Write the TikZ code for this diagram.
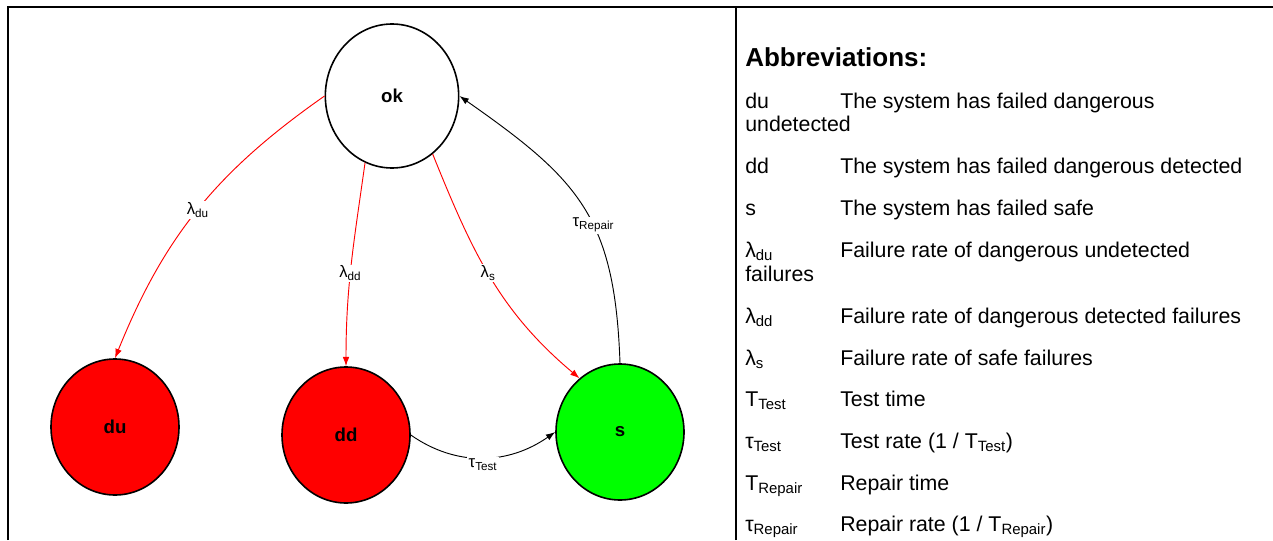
\documentclass[tikz,border=0pt]{standalone}
\usepackage{fontspec}
\setmainfont{Liberation Sans}
\usetikzlibrary{shapes.geometric,arrows.meta}
\newcommand{\lo}[1]{\textsubscript{#1}}
\definecolor{failred}{RGB}{255,0,0}
\definecolor{safegreen}{RGB}{0,255,0}

\begin{document}
\begin{tikzpicture}[x=0.75pt,y=0.75pt,
  state/.style={ellipse,draw,line width=1.2pt,minimum width=96pt,minimum height=102pt,inner sep=0pt,font=\bfseries\fontsize{14}{16}\selectfont},
  rate/.style={fill=white,text=black,inner sep=1pt,font=\fontsize{12.5}{14}\selectfont},
  fail/.style={draw=failred,line width=0.7pt,-{Latex[length=7pt,width=5pt]}},
  back/.style={draw=black,line width=0.7pt,-{Latex[length=7pt,width=5pt]}},
  abbr/.style={anchor=base west,inner sep=0pt,font=\fontsize{16}{19}\selectfont}]
\useasboundingbox (0,0) rectangle (1273,540);
\fill[white] (0,0) rectangle (1273,540);
\draw[line width=1.5pt] (8,0) -- (8,532.5) -- (1273,532.5);
\draw[line width=1.5pt] (735.5,0) -- (735.5,532.5);

% states
\node[state,fill=white,minimum width=100pt,minimum height=108pt] (ok) at (392,444) {ok};
\node[state,fill=failred] (du) at (115,113) {du};
\node[state,fill=failred] (dd) at (346,105) {dd};
\node[state,fill=safegreen] (s) at (620,108) {s};

% transitions
\draw[fail] (ok.west) to[out=-145,in=68] node[rate,pos=0.5] (ldu) {λ\lo{du}} (du.north);
\draw[fail] (ok.-112) to[out=-98,in=90] node[rate,pos=0.55] (ldd) {λ\lo{dd}} (dd.north);
\draw[fail] (ok.-55) to[out=-68,in=140] node[rate,pos=0.48] (ls) {λ\lo{s}} (s.127);
\draw[back] (s.north) to[out=92,in=-35,looseness=1.2] node[rate,pos=0.42] (lrep) {τ\lo{Repair}} (ok.east);
\draw[back] (dd.east) to[out=-35,in=-145] node[rate,pos=0.5,yshift=-5] (ltest) {τ\lo{Test}} (s.west);

% abbreviations
\node[abbr,font=\bfseries\fontsize{19.5}{23}\selectfont] (head) at (745,473) {Abbreviations:};
\node[abbr] (k1) at (745,431) {du};
\node[abbr] (v1) at (840,431) {The system has failed dangerous};
\node[abbr] (w1) at (745,408) {undetected};
\node[abbr] (k2) at (745,366) {dd};
\node[abbr] (v2) at (840,366) {The system has failed dangerous detected};
\node[abbr] (k3) at (745,325) {s};
\node[abbr] (v3) at (840,325) {The system has failed safe};
\node[abbr] (k4) at (745,283) {λ\lo{du}};
\node[abbr] (v4) at (840,283) {Failure rate of dangerous undetected};
\node[abbr] (w4) at (745,259) {failures};
\node[abbr] (k5) at (745,217) {λ\lo{dd}};
\node[abbr] (v5) at (840,217) {Failure rate of dangerous detected failures};
\node[abbr] (k6) at (745,175) {λ\lo{s}};
\node[abbr] (v6) at (840,175) {Failure rate of safe failures};
\node[abbr] (k7) at (745,134) {T\lo{Test}};
\node[abbr] (v7) at (840,134) {Test time};
\node[abbr] (k8) at (745,92) {τ\lo{Test}};
\node[abbr] (v8) at (840,92) {Test rate (1 / T\lo{Test})};
\node[abbr] (k9) at (745,50) {T\lo{Repair}};
\node[abbr] (v9) at (840,50) {Repair time};
\node[abbr] (k10) at (745,9) {τ\lo{Repair}};
\node[abbr] (v10) at (840,9) {Repair rate (1 / T\lo{Repair})};
\end{tikzpicture}
\end{document}
